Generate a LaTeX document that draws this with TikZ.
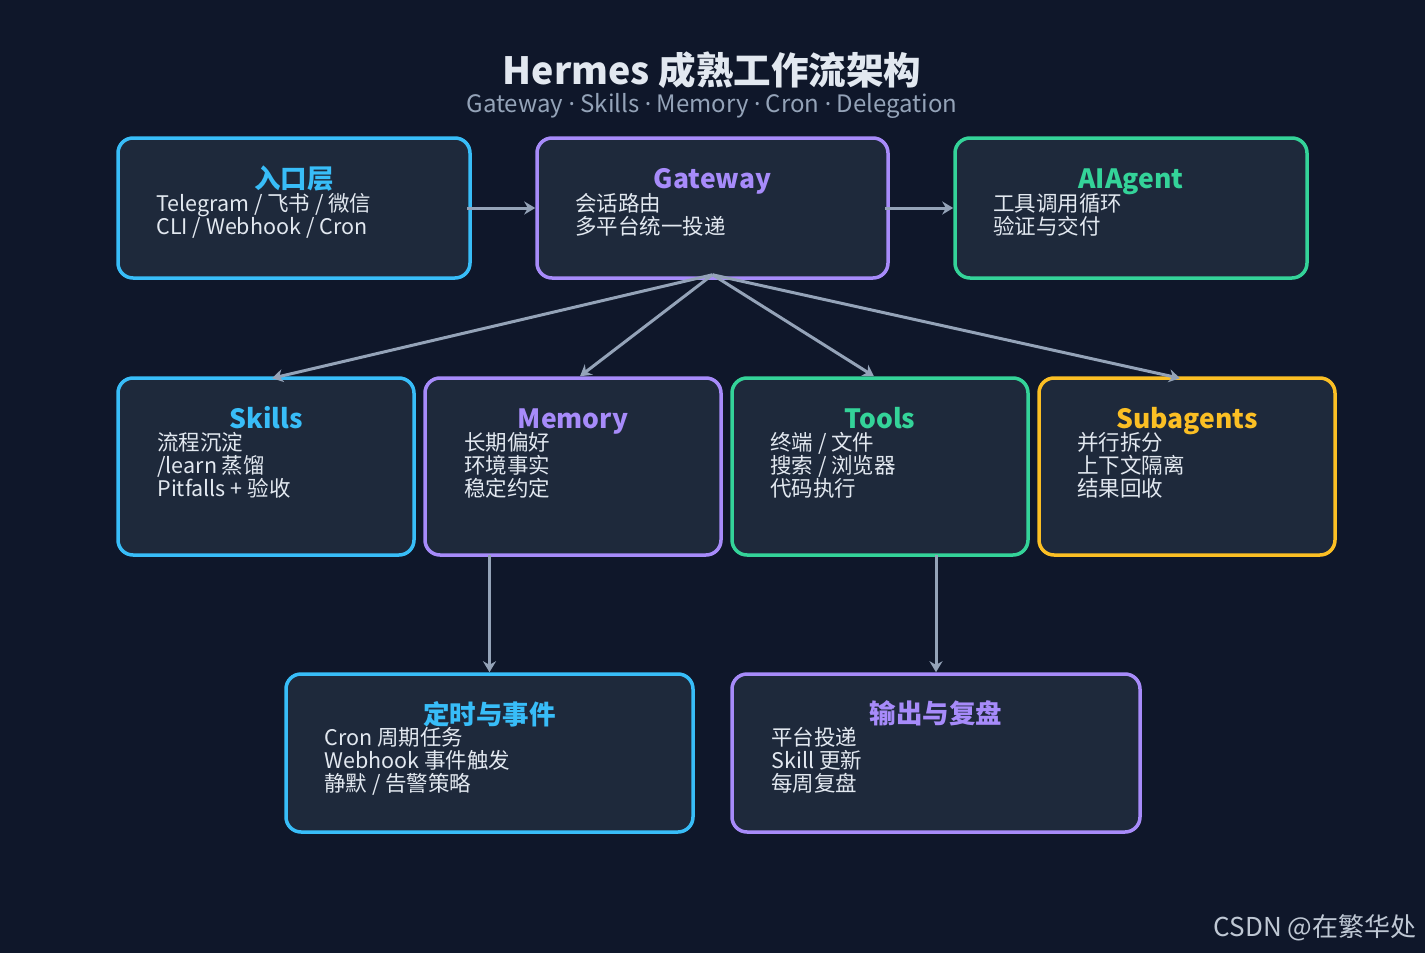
\documentclass[tikz,border=0pt]{standalone}
\usepackage{fontspec}
\setmainfont{Noto Sans CJK SC}
\newfontfamily\dotfont{Noto Sans}
\usetikzlibrary{positioning, arrows.meta, calc}

\definecolor{bgdark}{HTML}{0F172A}
\definecolor{boxfill}{HTML}{1E293B}
\definecolor{cyanc}{HTML}{38BDF8}
\definecolor{purplec}{HTML}{A78BFA}
\definecolor{greenc}{HTML}{34D399}
\definecolor{amberc}{HTML}{FBBF24}
\definecolor{linkc}{HTML}{94A3B8}
\definecolor{textc}{HTML}{E2E8F0}

\newcommand{\sepdot}{ {\dotfont ·} }

\tikzset{
  box/.style={draw=#1, line width=3.5pt, fill=boxfill, rounded corners=15pt, inner sep=0pt},
  hd/.style={text=#1, font=\fontsize{26.5}{26.5}\selectfont\bfseries, anchor=base},
  body/.style={text=textc, font=\fontsize{21.5}{22.7}\selectfont, anchor=base west, align=left, inner sep=0pt},
  arr/.style={draw=linkc, line width=3pt, -{Stealth[length=11pt,width=13pt]}}
}

\begin{document}
\begin{tikzpicture}[x=1pt, y=-1pt]
    \fill[bgdark] (0,0) rectangle (1425,953);
    \useasboundingbox (0,0) rectangle (1425,953);

    % title
    \node (title) [text=textc, font=\fontsize{37.5}{37.5}\selectfont\bfseries] at (712,70) {Hermes 成熟工作流架构};
    \node (sub) [text=linkc, font=\fontsize{24}{24}\selectfont] at (712,106) {Gateway\sepdot Skills\sepdot Memory\sepdot Cron\sepdot Delegation};

    % row 1
    \node (ep) [box=cyanc, minimum width=352pt, minimum height=140pt] at (294,208) {};
    \node (gw) [box=purplec, minimum width=351pt, minimum height=140pt] at (712.5,208) {};
    \node (ag) [box=greenc, minimum width=352pt, minimum height=140pt] at (1131,208) {};

    % row 2
    \node (sk) [box=cyanc, minimum width=296pt, minimum height=177pt] at (266,466.5) {};
    \node (mem) [box=purplec, minimum width=296pt, minimum height=177pt] at (573,466.5) {};
    \node (tl) [box=greenc, minimum width=296pt, minimum height=177pt] at (880,466.5) {};
    \node (sa) [box=amberc, minimum width=296pt, minimum height=177pt] at (1187,466.5) {};

    % row 3
    \node (cron) [box=cyanc, minimum width=407pt, minimum height=158pt] at (489.5,753) {};
    \node (out) [box=purplec, minimum width=408pt, minimum height=158pt] at (936,753) {};

    % headings
    \node (ephd) [hd=cyanc] at ($(ep.north)+(0,52)$) {入口层};
    \node (gwhd) [hd=purplec] at ($(gw.north)+(0,52)$) {Gateway};
    \node (aghd) [hd=greenc] at ($(ag.north)+(0,52)$) {AIAgent};
    \node (skhd) [hd=cyanc] at ($(sk.north)+(0,52)$) {Skills};
    \node (memhd) [hd=purplec] at ($(mem.north)+(0,52)$) {Memory};
    \node (tlhd) [hd=greenc] at ($(tl.north)+(0,52)$) {Tools};
    \node (sahd) [hd=amberc] at ($(sa.north)+(0,52)$) {Subagents};
    \node (cronhd) [hd=cyanc] at ($(cron.north)+(0,52)$) {定时与事件};
    \node (outhd) [hd=purplec] at ($(out.north)+(0,51)$) {输出与复盘};

    % body texts (anchored at the baseline of the last line)
    \node (eptx) [body] at ($(ep.north west)+(40,98)$) {Telegram / 飞书 / 微信\\CLI / Webhook / Cron};
    \node (gwtx) [body] at ($(gw.north west)+(40,98)$) {会话路由\\多平台统一投递};
    \node (agtx) [body] at ($(ag.north west)+(40,98)$) {工具调用循环\\验证与交付};
    \node (sktx) [body] at ($(sk.north west)+(41,120)$) {流程沉淀\\/learn 蒸馏\\Pitfalls + 验收};
    \node (memtx) [body] at ($(mem.north west)+(41,120)$) {长期偏好\\环境事实\\稳定约定};
    \node (tltx) [body] at ($(tl.north west)+(40,120)$) {终端 / 文件\\搜索 / 浏览器\\代码执行};
    \node (satx) [body] at ($(sa.north west)+(40,120)$) {并行拆分\\上下文隔离\\结果回收};
    \node (crontx) [body] at ($(cron.north west)+(40,119)$) {Cron 周期任务\\Webhook 事件触发\\静默 / 告警策略};
    \node (outtx) [body] at ($(out.north west)+(41,119)$) {平台投递\\Skill 更新\\每周复盘};

    % connectors
    \coordinate (gwout) at ([yshift=5pt]gw.south);
    \draw [arr] ([xshift=-5pt]ep.east) -- (gw.west);
    \draw [arr] ([xshift=-5pt]gw.east) -- (ag.west);
    \draw [arr] (gwout) -- ([xshift=6pt,yshift=-2pt]sk.north);
    \draw [arr] (gwout) -- ([xshift=7pt]mem.north);
    \draw [arr] (gwout) -- ([xshift=-6pt]tl.north);
    \draw [arr] (gwout) -- ([xshift=-7pt,yshift=-2pt]sa.north);
    \draw [arr] ([yshift=2pt]mem.south -| cron.north) -- (cron.north);
    \draw [arr] ([yshift=2pt]tl.south -| out.north) -- (out.north);

    % watermark
    \node (wm) [text=linkc!60!white, font=\fontsize{26}{26}\selectfont, anchor=base east] at (1420,936) {CSDN @在繁华处};
\end{tikzpicture}
\end{document}
